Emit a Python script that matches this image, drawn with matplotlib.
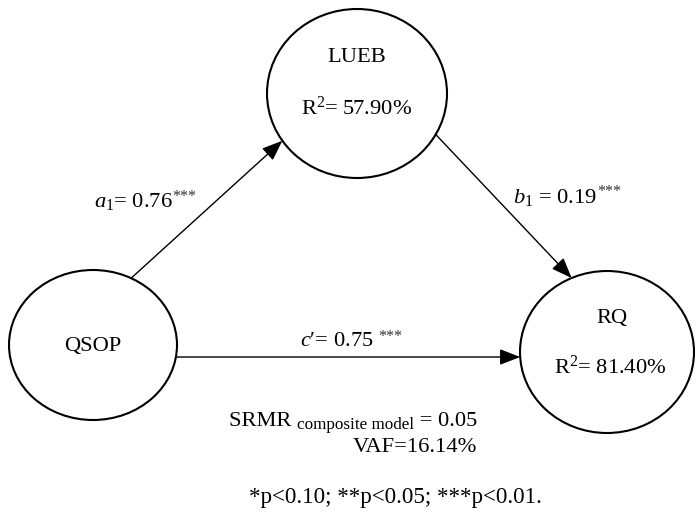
import matplotlib
matplotlib.use("Agg")
import matplotlib.pyplot as plt
from matplotlib.patches import Ellipse
import numpy as np

# ---- data ----
nodes = ["QSOP", "LUEB", "RQ"]
r2_values = {"LUEB": "57.90%", "RQ": "81.40%"}
path_names = ["a1", "b1", "c'"]
path_coefs = [0.76, 0.19, 0.75]
path_stars = ["***", "***", "***"]
srmr = 0.05
vaf = "16.14%"
footnote = "*p<0.10; **p<0.05; ***p<0.01."

# ---- layout (pixel space) ----
W, H = 696, 517
centers = {"QSOP": (93, 345), "LUEB": (357, 93.5), "RQ": (607, 352)}
halfax = {"QSOP": (84, 75), "LUEB": (90, 84.5), "RQ": (87, 81)}

plt.rcParams['font.family'] = ['Liberation Serif', 'DejaVu Serif']
plt.rcParams['mathtext.fontset'] = 'custom'
plt.rcParams['mathtext.rm'] = 'Liberation Serif'
plt.rcParams['mathtext.it'] = 'Liberation Serif:italic'
plt.rcParams['mathtext.bf'] = 'Liberation Serif:bold'

fig = plt.figure(figsize=(W / 100, H / 100), dpi=100)
ax = fig.add_axes([0, 0, 1, 1])
ax.set_xlim(0, W)
ax.set_ylim(H, 0)
ax.axis('off')

for n in nodes:
    cx, cy = centers[n]
    a, b = halfax[n]
    ax.add_patch(Ellipse((cx, cy), 2 * a, 2 * b, fill=False, lw=1.5, ec='black'))


def boundary(n, ang_deg=None, y=None, side=1):
    cx, cy = centers[n]
    a, b = halfax[n]
    if y is not None:
        dy = y - cy
        return (cx + side * a * np.sqrt(1 - (dy / b) ** 2), y)
    t = np.deg2rad(ang_deg)
    return (cx + a * np.cos(t), cy - b * np.sin(t))


FS = 16.2
# node labels
ax.text(centers["QSOP"][0], 347, "QSOP", ha='center', va='center', fontsize=FS)
ax.text(centers["LUEB"][0], 57, "LUEB", ha='center', va='center', fontsize=FS)
ax.text(centers["LUEB"][0], 108, "R$^2$= " + r2_values["LUEB"], ha='center', va='center', fontsize=FS)
ax.text(612, 318, "RQ", ha='center', va='center', fontsize=FS)
ax.text(610, 367, "R$^2$= " + r2_values["RQ"], ha='center', va='center', fontsize=FS)

arrow_kw = dict(arrowstyle='-|>,head_length=0.9,head_width=0.35', lw=1.0, color='black',
                shrinkA=0, shrinkB=0, mutation_scale=14)

# a1 : QSOP -> LUEB
p0 = boundary("QSOP", 63)
p1 = boundary("LUEB", 214)
ax.annotate("", xy=p1, xytext=p0, arrowprops=arrow_kw)
# b1 : LUEB -> RQ
p0 = boundary("LUEB", -29)
p1 = boundary("RQ", 114)
ax.annotate("", xy=p1, xytext=p0, arrowprops=arrow_kw)
# c' : QSOP -> RQ
p0 = boundary("QSOP", y=357, side=1)
p1 = boundary("RQ", y=357, side=-1)
ax.annotate("", xy=p1, xytext=p0, arrowprops=arrow_kw)


def label_with_stars(x, y, s, st, gap=0.0):
    t = ax.text(x, y, s, ha='left', va='center', fontsize=FS)
    ax.annotate(st, xy=(1.0, 0.76), xycoords=t, xytext=(gap, 0), textcoords='offset points',
                ha='left', va='center', fontsize=11.5, color='#333333')
    return t


# path labels
label_with_stars(94, 202, r"$\mathit{a}_{\mathit{1}}$= %.2f" % path_coefs[0], path_stars[0])
label_with_stars(513, 197, r"$\mathit{b}_{\mathit{1}}$ = %.2f" % path_coefs[1], path_stars[1])
label_with_stars(300, 342, "$\\mathit{c}$\u2032= %.2f" % path_coefs[2], path_stars[2], gap=3)

# fit stats
t = ax.text(229, 421, "SRMR ", ha='left', va='center', fontsize=FS)
t2 = ax.annotate("composite model", xy=(1.0, 0.5), xycoords=t, xytext=(0, -3),
                 textcoords='offset points', ha='left', va='center', fontsize=12.3)
ax.annotate(" = %.2f" % srmr, xy=(1.0, 0.5), xycoords=t2, xytext=(0, 3),
            textcoords='offset points', ha='left', va='center', fontsize=FS)
ax.text(477, 448, "VAF=" + vaf, ha='right', va='center', fontsize=FS)
ax.text(395, 498, footnote, ha='center', va='center', fontsize=16.6)

fig.savefig("out.png", dpi=100)
